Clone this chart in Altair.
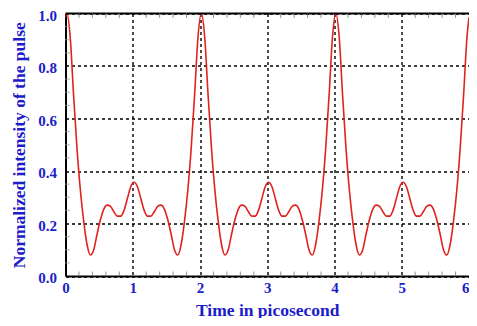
import altair as alt
import pandas as pd

# Time grid (ps): start, then samples every 0.05 ps aligned to the pulse peaks, then end
time_ps = [0.0] + [round(0.02 + 0.05 * k, 3) for k in range(120)] + [6.0]

# Normalized intensity (one value per time sample)
intensity = (
    [0.985]
    # period 1 (peak at ~0.02)
    + [1.0, 0.91, 0.69, 0.49, 0.33, 0.21, 0.12, 0.08, 0.10, 0.16,
       0.215, 0.255, 0.27, 0.265, 0.245, 0.228, 0.228, 0.25, 0.295, 0.34,
       0.357, 0.34, 0.295, 0.25, 0.228, 0.228, 0.245, 0.265, 0.27, 0.255,
       0.215, 0.16, 0.10, 0.08, 0.12, 0.21, 0.33, 0.49, 0.69, 0.91]
    # period 2 (peak at ~2.02)
    + [1.0, 0.91, 0.69, 0.49, 0.33, 0.21, 0.12, 0.08, 0.10, 0.16,
       0.215, 0.255, 0.27, 0.265, 0.245, 0.228, 0.228, 0.25, 0.295, 0.34,
       0.357, 0.34, 0.295, 0.25, 0.228, 0.228, 0.245, 0.265, 0.27, 0.255,
       0.215, 0.16, 0.10, 0.08, 0.12, 0.21, 0.33, 0.49, 0.69, 0.91]
    # period 3 (peak at ~4.02)
    + [1.0, 0.91, 0.69, 0.49, 0.33, 0.21, 0.12, 0.08, 0.10, 0.16,
       0.215, 0.255, 0.27, 0.265, 0.245, 0.228, 0.228, 0.25, 0.295, 0.34,
       0.357, 0.34, 0.295, 0.25, 0.228, 0.228, 0.245, 0.265, 0.27, 0.255,
       0.215, 0.16, 0.10, 0.08, 0.12, 0.21, 0.33, 0.49, 0.69, 0.91]
    + [0.985]
)

x_ticks = [0, 1, 2, 3, 4, 5, 6]
y_ticks = [0.0, 0.2, 0.4, 0.6, 0.8, 1.0]
x_minor = [0.2, 0.4, 0.6, 0.8, 1.2, 1.4, 1.6, 1.8, 2.2, 2.4, 2.6, 2.8,
           3.2, 3.4, 3.6, 3.8, 4.2, 4.4, 4.6, 4.8, 5.2, 5.4, 5.6, 5.8]
y_minor = [0.05, 0.1, 0.15, 0.25, 0.3, 0.35, 0.45, 0.5, 0.55,
           0.65, 0.7, 0.75, 0.85, 0.9, 0.95]

df = pd.DataFrame({"t": time_ps, "I": intensity})
xminor_df = pd.DataFrame({"t": x_minor})
yminor_df = pd.DataFrame({"v": y_minor})
frame_df = pd.DataFrame({"t0": [0.0], "t1": [6.0], "top": [1.0]})

BLUE = "#1c1cc8"
FONT = "Liberation Serif"

xscale = alt.Scale(domain=[0, 6], nice=False, zero=False)
yscale = alt.Scale(domain=[0, 1.0], nice=False)

line = alt.Chart(df).mark_line(color="#e0231e", strokeWidth=1.6, interpolate="monotone", clip=True).encode(
    x=alt.X("t:Q", scale=xscale,
            axis=alt.Axis(title="Time in picosecond", values=x_ticks, format="d",
                          grid=True, gridColor="black", gridDash=[3, 3], gridWidth=1.4,
                          ticks=False, labelPadding=4, titlePadding=6, labelFlush=False,
                          labelAlign={"condition": {"test": "datum.value >= 6", "value": "right"},
                                      "value": "center"},
                          domainColor="black", domainWidth=2)),
    y=alt.Y("I:Q", scale=yscale,
            axis=alt.Axis(title="Normalized intensity of the pulse", values=y_ticks, format=".1f",
                          grid=True, gridColor="black", gridDash=[3, 3], gridWidth=1.4,
                          ticks=False, labelPadding=9, titlePadding=9, labelFlush=False,
                          labelOffset=1.5,
                          domainColor="black", domainWidth=2)),
)

top_border = alt.Chart(frame_df).mark_rule(color="black", strokeWidth=2).encode(
    x=alt.X("t0:Q", scale=xscale), x2="t1:Q", y=alt.Y("top:Q", scale=yscale),
)

minor_bottom = alt.Chart(xminor_df).mark_tick(color="#666666", thickness=1, size=5, orient="vertical").encode(
    x=alt.X("t:Q", scale=xscale),
    y=alt.Y(datum=0, scale=yscale),
    yOffset=alt.value(-2),
)
minor_top = alt.Chart(xminor_df).mark_tick(color="#666666", thickness=1, size=5, orient="vertical").encode(
    x=alt.X("t:Q", scale=xscale),
    y=alt.Y(datum=1.0, scale=yscale),
    yOffset=alt.value(2),
)
minor_left = alt.Chart(yminor_df).mark_tick(color="#999999", thickness=1, size=5, orient="horizontal").encode(
    y=alt.Y("v:Q", scale=yscale),
    x=alt.X(datum=0, scale=xscale),
    xOffset=alt.value(2),
)

chart = alt.layer(line, top_border, minor_bottom, minor_top, minor_left).properties(
    width=403.5, height=262.5,
    autosize=alt.AutoSizeParams(type="none"),
    padding={"left": 57.5, "top": 5.5, "right": 0, "bottom": 42},
).configure_view(
    stroke=None
).configure_axis(
    labelFont=FONT, labelFontSize=15, labelFontWeight="bold", labelColor=BLUE,
    titleFont=FONT, titleFontSize=17.5, titleFontWeight="bold", titleColor=BLUE,
)

chart.save("out.html", embed_options={"renderer": "svg", "actions": False})
